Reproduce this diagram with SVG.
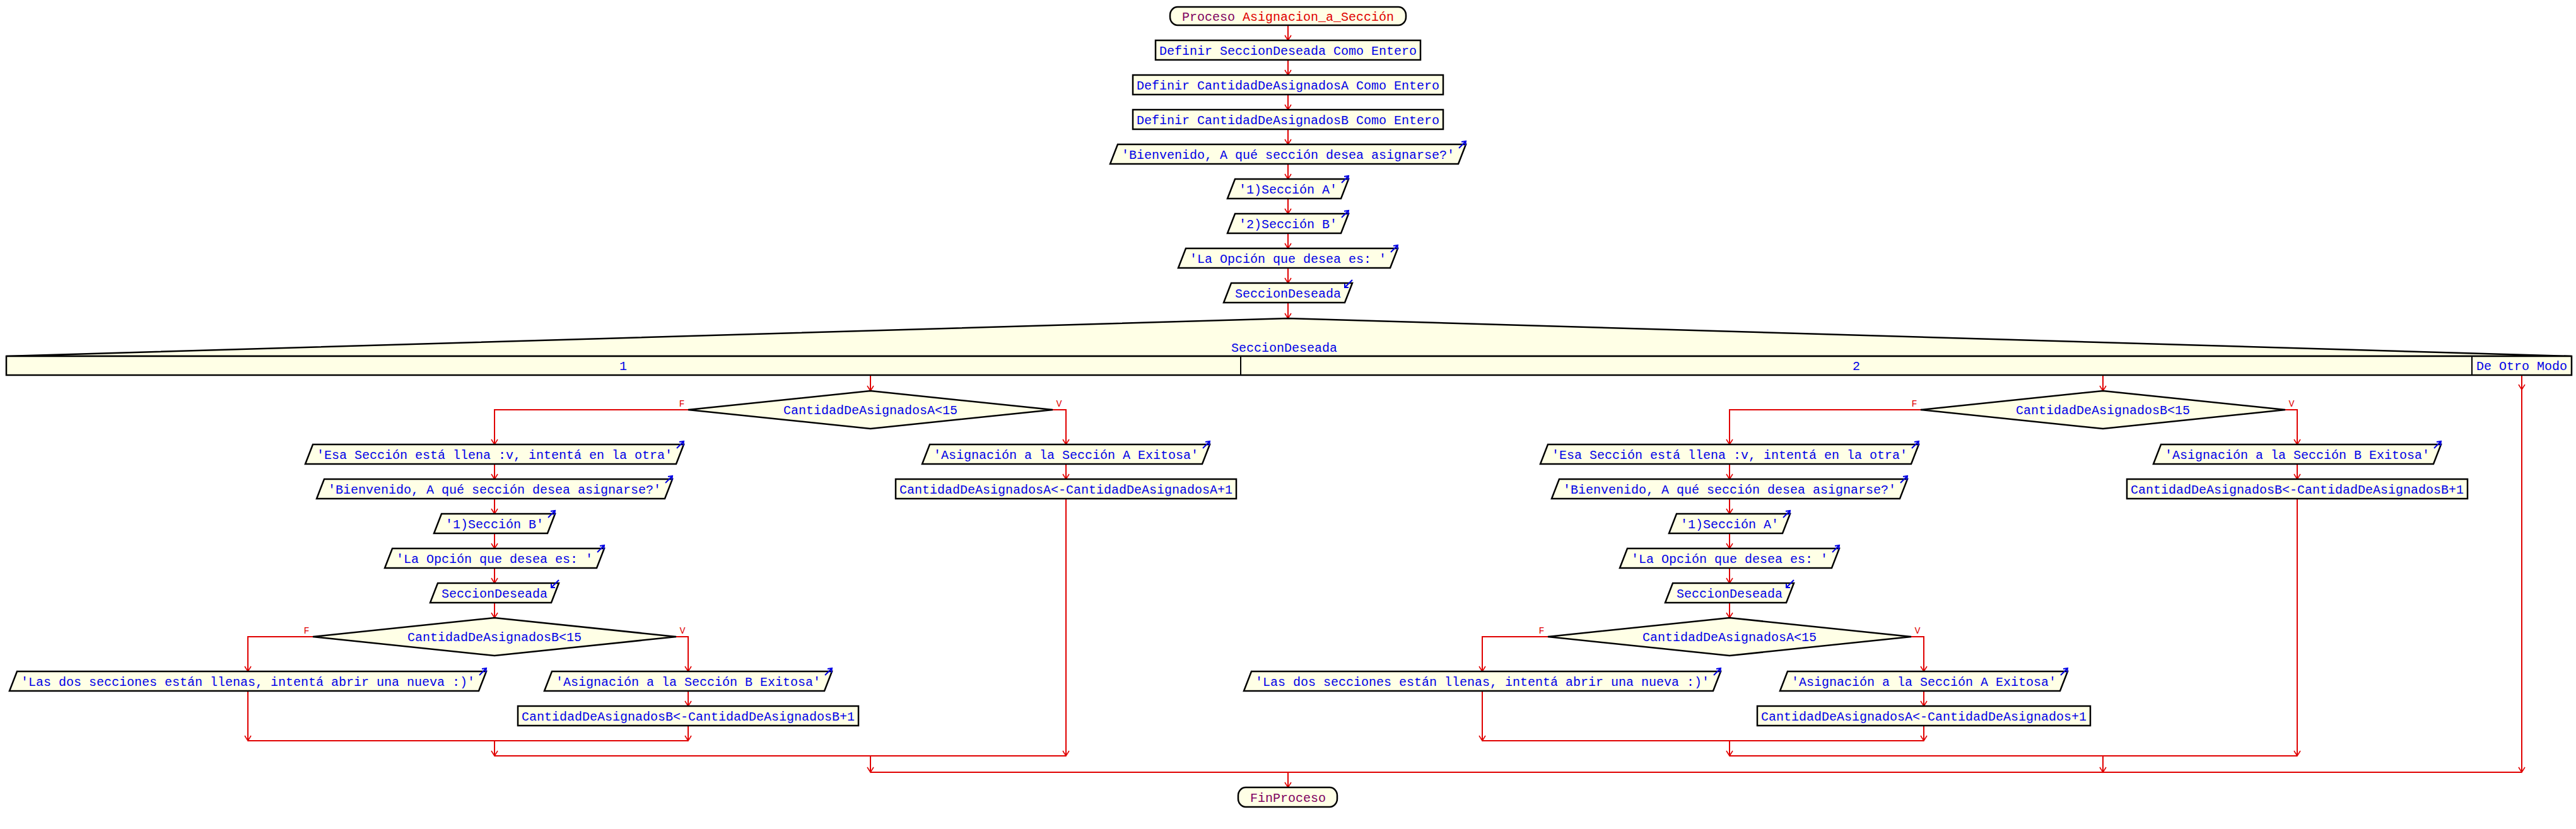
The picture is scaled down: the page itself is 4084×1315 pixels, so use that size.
<svg xmlns="http://www.w3.org/2000/svg" width="4084" height="1315" viewBox="0 0 4084 1315">
<defs>
<marker id="ah" markerUnits="userSpaceOnUse" markerWidth="14" markerHeight="14" viewBox="-10 -7 12 14" refX="0" refY="0" orient="auto">
<path d="M-8,-5 L0,0 L-8,5" fill="none" stroke="#e00000" stroke-width="1.6"/>
</marker>
<style>
.n{fill:#ffffe6;stroke:#000;stroke-width:2.5}
.t{font-family:"Liberation Mono","DejaVu Sans Mono",monospace;font-size:20px;fill:#0000e6;text-anchor:middle}
.c{stroke:#e00000;stroke-width:2;fill:none}
.a{stroke:#e00000;stroke-width:2;fill:none;marker-end:url(#ah)}
.l{font-family:"Liberation Mono","DejaVu Sans Mono",monospace;font-size:15px;fill:#e00000;text-anchor:middle}
.i{stroke:#0000e6;stroke-width:2;fill:none}
.k{fill:#800060}
.r{fill:#e00000}
</style>
</defs>
<rect width="4084" height="1315" fill="#fff"/>

<g id="connectors">
<path class="a" d="M2042,40V64"/>
<path class="a" d="M2042,95V119"/>
<path class="a" d="M2042,150V174"/>
<path class="a" d="M2042,205V229"/>
<path class="a" d="M2042,260V284"/>
<path class="a" d="M2042,315V339"/>
<path class="a" d="M2042,370V394"/>
<path class="a" d="M2042,425V449"/>
<path class="a" d="M2042,480V505"/>
<path class="a" d="M1380,595V620"/>
<path class="a" d="M3334,595V620"/>
<path class="a" d="M3998,595V618"/>
<path class="a" d="M3998,618V1225"/>
<!-- case 1 -->
<path class="a" d="M1091,650H784V705"/>
<path class="a" d="M1669,650H1690V705"/>
<path class="a" d="M784,736V760"/>
<path class="a" d="M784,791V815"/>
<path class="a" d="M784,846V870"/>
<path class="a" d="M784,901V925"/>
<path class="a" d="M784,956V980"/>
<path class="a" d="M496,1010H393V1065"/>
<path class="a" d="M1072,1010H1091V1065"/>
<path class="a" d="M1091,1096V1120"/>
<path class="a" d="M393,1096V1175"/>
<path class="a" d="M1091,1151V1175"/>
<path class="c" d="M393,1175H1091"/>
<path class="a" d="M784,1175V1199"/>
<path class="a" d="M1690,736V760"/>
<path class="a" d="M1690,791V1199"/>
<path class="c" d="M784,1199H1690"/>
<path class="a" d="M1380,1199V1225"/>
<!-- case 2 -->
<path class="a" d="M3045,650H2742V705"/>
<path class="a" d="M3623,650H3642V705"/>
<path class="a" d="M2742,736V760"/>
<path class="a" d="M2742,791V815"/>
<path class="a" d="M2742,846V870"/>
<path class="a" d="M2742,901V925"/>
<path class="a" d="M2742,956V980"/>
<path class="a" d="M2454,1010H2350V1065"/>
<path class="a" d="M3030,1010H3050V1065"/>
<path class="a" d="M3050,1096V1120"/>
<path class="a" d="M2350,1096V1175"/>
<path class="a" d="M3050,1151V1175"/>
<path class="c" d="M2350,1175H3050"/>
<path class="a" d="M2742,1175V1199"/>
<path class="a" d="M3642,736V760"/>
<path class="a" d="M3642,791V1199"/>
<path class="c" d="M2742,1199H3642"/>
<path class="a" d="M3334,1199V1225"/>
<path class="c" d="M1380,1225H3998"/>
<path class="a" d="M2042,1225V1249"/>
<text class="l" x="1081" y="645">F</text>
<text class="l" x="1679" y="645">V</text>
<text class="l" x="486" y="1005">F</text>
<text class="l" x="1082" y="1005">V</text>
<text class="l" x="3035" y="645">F</text>
<text class="l" x="3633" y="645">V</text>
<text class="l" x="2444" y="1005">F</text>
<text class="l" x="3040" y="1005">V</text>
</g>

<g id="inicio">
<rect class="n" x="1855" y="11" width="374" height="29" rx="12" ry="13"/>
<text class="t" x="2042" y="32.5"><tspan class="k">Proceso </tspan><tspan class="r">Asignacion_a_Sección</tspan></text>
</g>
<g id="def1">
<rect class="n" x="1832" y="64" width="420" height="31"/>
<text class="t" x="2042" y="86.5">Definir SeccionDeseada Como Entero</text>
</g>
<g id="def2">
<rect class="n" x="1796" y="119" width="492" height="31"/>
<text class="t" x="2042" y="141.5">Definir CantidadDeAsignadosA Como Entero</text>
</g>
<g id="def3">
<rect class="n" x="1796" y="174" width="492" height="31"/>
<text class="t" x="2042" y="196.5">Definir CantidadDeAsignadosB Como Entero</text>
</g>
<g id="esc1">
<polygon class="n" points="1772,229 2324,229 2312,260 1760,260"/>
<path class="i" d="M2313,235L2324,224M2317,225L2324,224L2323,231"/>
<text class="t" x="2042" y="251.5">'Bienvenido, A qué sección desea asignarse?'</text>
</g>
<g id="esc2">
<polygon class="n" points="1958,284 2138,284 2126,315 1946,315"/>
<path class="i" d="M2127,290L2138,279M2131,280L2138,279L2137,286"/>
<text class="t" x="2042" y="306.5">'1)Sección A'</text>
</g>
<g id="esc3">
<polygon class="n" points="1958,339 2138,339 2126,370 1946,370"/>
<path class="i" d="M2127,345L2138,334M2131,335L2138,334L2137,341"/>
<text class="t" x="2042" y="361.5">'2)Sección B'</text>
</g>
<g id="esc4">
<polygon class="n" points="1880,394 2216,394 2204,425 1868,425"/>
<path class="i" d="M2205,400L2216,389M2209,390L2216,389L2215,396"/>
<text class="t" x="2042" y="416.5">'La Opción que desea es: '</text>
</g>
<g id="leer1">
<polygon class="n" points="1952,449 2144,449 2132,480 1940,480"/>
<path class="i" d="M2144,444L2132,456M2132,450L2132,456L2138,456"/>
<text class="t" x="2042" y="471.5">SeccionDeseada</text>
</g>
<g id="segun">
<polygon class="n" points="10,565 2042,505 4077,565"/>
<rect class="n" x="10" y="565" width="4067" height="30"/>
<path d="M1967,565V595M3919,565V595" stroke="#000" stroke-width="2"/>
<text class="t" x="2036" y="558">SeccionDeseada</text>
<text class="t" x="988" y="587">1</text>
<text class="t" x="2943" y="587">2</text>
<text class="t" x="3998" y="587">De Otro Modo</text>
</g>

<!-- case 1 -->
<g id="si1">
<polygon class="n" points="1380,620 1669,650 1380,680 1091,650"/>
<text class="t" x="1380" y="657">CantidadDeAsignadosA&lt;15</text>
</g>
<g id="esc5">
<polygon class="n" points="496,705 1084,705 1072,736 484,736"/>
<path class="i" d="M1073,711L1084,700M1077,701L1084,700L1083,707"/>
<text class="t" x="784" y="727.5">'Esa Sección está llena :v, intentá en la otra'</text>
</g>
<g id="esc6">
<polygon class="n" points="514,760 1066,760 1054,791 502,791"/>
<path class="i" d="M1055,766L1066,755M1059,756L1066,755L1065,762"/>
<text class="t" x="784" y="782.5">'Bienvenido, A qué sección desea asignarse?'</text>
</g>
<g id="esc7">
<polygon class="n" points="700,815 880,815 868,846 688,846"/>
<path class="i" d="M869,821L880,810M873,811L880,810L879,817"/>
<text class="t" x="784" y="837.5">'1)Sección B'</text>
</g>
<g id="esc8">
<polygon class="n" points="622,870 958,870 946,901 610,901"/>
<path class="i" d="M947,876L958,865M951,866L958,865L957,872"/>
<text class="t" x="784" y="892.5">'La Opción que desea es: '</text>
</g>
<g id="leer2">
<polygon class="n" points="694,925 886,925 874,956 682,956"/>
<path class="i" d="M886,920L874,932M874,926L874,932L880,932"/>
<text class="t" x="784" y="947.5">SeccionDeseada</text>
</g>
<g id="si2">
<polygon class="n" points="784,980 1072,1010 784,1040 496,1010"/>
<text class="t" x="784" y="1017">CantidadDeAsignadosB&lt;15</text>
</g>
<g id="esc9">
<polygon class="n" points="27,1065 771,1065 759,1096 15,1096"/>
<path class="i" d="M760,1071L771,1060M764,1061L771,1060L770,1067"/>
<text class="t" x="393" y="1087.5">'Las dos secciones están llenas, intentá abrir una nueva :)'</text>
</g>
<g id="esc10">
<polygon class="n" points="875,1065 1319,1065 1307,1096 863,1096"/>
<path class="i" d="M1308,1071L1319,1060M1312,1061L1319,1060L1318,1067"/>
<text class="t" x="1091" y="1087.5">'Asignación a la Sección B Exitosa'</text>
</g>
<g id="asig1">
<rect class="n" x="821" y="1120" width="540" height="31"/>
<text class="t" x="1091" y="1142.5">CantidadDeAsignadosB&lt;-CantidadDeAsignadosB+1</text>
</g>
<g id="esc11">
<polygon class="n" points="1474,705 1918,705 1906,736 1462,736"/>
<path class="i" d="M1907,711L1918,700M1911,701L1918,700L1917,707"/>
<text class="t" x="1690" y="727.5">'Asignación a la Sección A Exitosa'</text>
</g>
<g id="asig2">
<rect class="n" x="1420" y="760" width="540" height="31"/>
<text class="t" x="1690" y="782.5">CantidadDeAsignadosA&lt;-CantidadDeAsignadosA+1</text>
</g>

<!-- case 2 -->
<g id="si3">
<polygon class="n" points="3334,620 3623,650 3334,680 3045,650"/>
<text class="t" x="3334" y="657">CantidadDeAsignadosB&lt;15</text>
</g>
<g id="esc12">
<polygon class="n" points="2454,705 3042,705 3030,736 2442,736"/>
<path class="i" d="M3031,711L3042,700M3035,701L3042,700L3041,707"/>
<text class="t" x="2742" y="727.5">'Esa Sección está llena :v, intentá en la otra'</text>
</g>
<g id="esc13">
<polygon class="n" points="2472,760 3024,760 3012,791 2460,791"/>
<path class="i" d="M3013,766L3024,755M3017,756L3024,755L3023,762"/>
<text class="t" x="2742" y="782.5">'Bienvenido, A qué sección desea asignarse?'</text>
</g>
<g id="esc14">
<polygon class="n" points="2658,815 2838,815 2826,846 2646,846"/>
<path class="i" d="M2827,821L2838,810M2831,811L2838,810L2837,817"/>
<text class="t" x="2742" y="837.5">'1)Sección A'</text>
</g>
<g id="esc15">
<polygon class="n" points="2580,870 2916,870 2904,901 2568,901"/>
<path class="i" d="M2905,876L2916,865M2909,866L2916,865L2915,872"/>
<text class="t" x="2742" y="892.5">'La Opción que desea es: '</text>
</g>
<g id="leer3">
<polygon class="n" points="2652,925 2844,925 2832,956 2640,956"/>
<path class="i" d="M2844,920L2832,932M2832,926L2832,932L2838,932"/>
<text class="t" x="2742" y="947.5">SeccionDeseada</text>
</g>
<g id="si4">
<polygon class="n" points="2742,980 3030,1010 2742,1040 2454,1010"/>
<text class="t" x="2742" y="1017">CantidadDeAsignadosA&lt;15</text>
</g>
<g id="esc16">
<polygon class="n" points="1984,1065 2728,1065 2716,1096 1972,1096"/>
<path class="i" d="M2717,1071L2728,1060M2721,1061L2728,1060L2727,1067"/>
<text class="t" x="2350" y="1087.5">'Las dos secciones están llenas, intentá abrir una nueva :)'</text>
</g>
<g id="esc17">
<polygon class="n" points="2834,1065 3278,1065 3266,1096 2822,1096"/>
<path class="i" d="M3267,1071L3278,1060M3271,1061L3278,1060L3277,1067"/>
<text class="t" x="3050" y="1087.5">'Asignación a la Sección A Exitosa'</text>
</g>
<g id="asig3">
<rect class="n" x="2786" y="1120" width="528" height="31"/>
<text class="t" x="3050" y="1142.5">CantidadDeAsignadosA&lt;-CantidadDeAsignados+1</text>
</g>
<g id="esc18">
<polygon class="n" points="3426,705 3870,705 3858,736 3414,736"/>
<path class="i" d="M3859,711L3870,700M3863,701L3870,700L3869,707"/>
<text class="t" x="3642" y="727.5">'Asignación a la Sección B Exitosa'</text>
</g>
<g id="asig4">
<rect class="n" x="3372" y="760" width="540" height="31"/>
<text class="t" x="3642" y="782.5">CantidadDeAsignadosB&lt;-CantidadDeAsignadosB+1</text>
</g>

<g id="fin">
<rect class="n" x="1963" y="1249" width="157" height="31" rx="12" ry="13"/>
<text class="t k" x="2042" y="1271.5">FinProceso</text>
</g>
</svg>
